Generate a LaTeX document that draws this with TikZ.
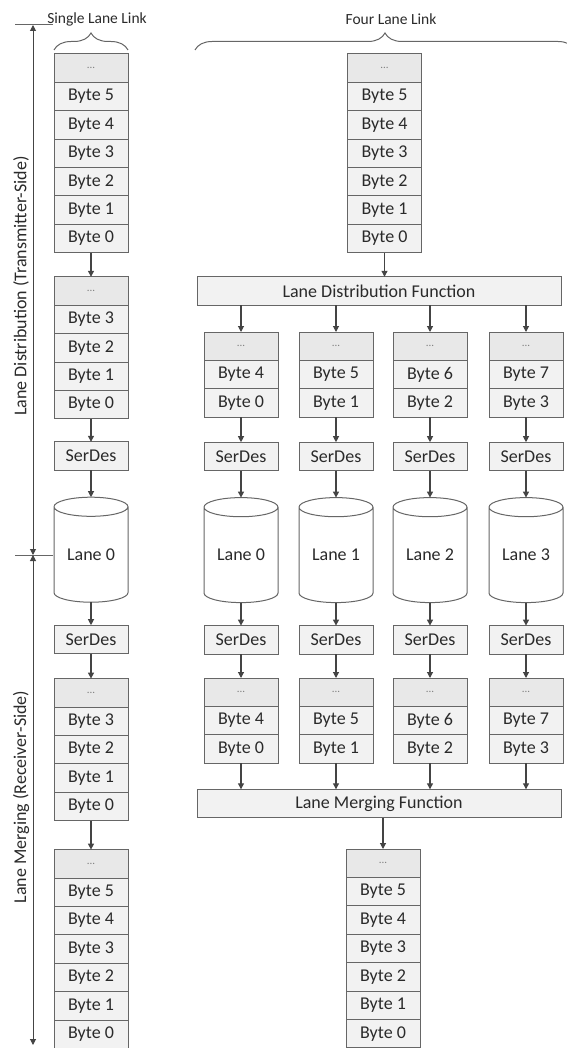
\documentclass[tikz,border=0pt]{standalone}
\usepackage{fontspec}
\setmainfont{Carlito}
\usetikzlibrary{arrows.meta,positioning,shapes.geometric,decorations.pathreplacing}
\definecolor{LineGray}{HTML}{666666}
\definecolor{CellGray}{HTML}{F2F2F2}
\definecolor{DotGray}{HTML}{E8E8E8}
\definecolor{TextGray}{HTML}{2A2A2A}
\definecolor{ArrowGray}{HTML}{444444}

\begin{document}
\begin{tikzpicture}[x=1pt, y=1pt, >={Triangle[width=6pt,length=6pt]}, font=\fontsize{18}{21}\selectfont, text=TextGray, node distance=0pt]
\tikzset{cell/.style={draw=LineGray, line width=1pt, fill=CellGray, minimum width=74pt, minimum height=28.4pt, inner sep=0pt, outer sep=0pt}, dots/.style={cell, fill=DotGray, font=\fontsize{11}{11}\selectfont, text=gray}, func/.style={cell, minimum width=364pt}, lane/.style={draw=LineGray, line width=1pt, fill=white, cylinder, shape border rotate=90, aspect=0.4, minimum width=74pt, minimum height=105pt, inner sep=0pt, outer sep=0pt}, link/.style={->, ArrowGray, line width=1.1pt}, dim/.style={<->, ArrowGray, line width=1pt}, brc/.style={decorate, decoration={brace, amplitude=17pt}, LineGray, line width=1pt}, head/.style={font=\fontsize{15.5}{18}\selectfont}}
\useasboundingbox (0,0) rectangle (566,-1048);

% single lane link
\node[dots] (sa0) at (91,-68.2) {...};
\foreach \b [count=\k, remember=\k as \p (initially 0)] in {5,...,0}
  \node[cell, below=of sa\p] (sa\k) {Byte \b};
\node[dots, below=24pt of sa6] (sb0) {...};
\foreach \b [count=\k, remember=\k as \p (initially 0)] in {3,...,0}
  \node[cell, below=of sb\p] (sb\k) {Byte \b};
\node[cell, below=23pt of sb4] (ss1) {SerDes};
\node[lane, below=27pt of ss1] (sl) {Lane 0};
\node[cell, below=23pt of sl] (ss2) {SerDes};
\node[dots, below=25pt of ss2] (sc0) {...};
\foreach \b [count=\k, remember=\k as \p (initially 0)] in {3,...,0}
  \node[cell, below=of sc\p] (sc\k) {Byte \b};
\node[dots, below=29pt of sc4] (sd0) {...};
\foreach \b [count=\k, remember=\k as \p (initially 0)] in {5,...,0}
  \node[cell, below=of sd\p] (sd\k) {Byte \b};
\foreach \a/\b in {sa6/sb0,sb4/ss1,ss1/sl,sl/ss2,ss2/sc0,sc4/sd0} \draw[link] (\a)--(\b);

% four lane link
\node[dots] (fa0) at (384.5,-68.2) {...};
\foreach \b [count=\k, remember=\k as \p (initially 0)] in {5,...,0}
  \node[cell, below=of fa\p] (fa\k) {Byte \b};
\node[func] (dist) at (379,-291) {Lane Distribution Function};
\node[func] (merge) at (379,-803.5) {Lane Merging Function};
\node[dots] (fb0) at (383,-863.2) {...};
\foreach \b [count=\k, remember=\k as \p (initially 0)] in {5,...,0}
  \node[cell, below=of fb\p] (fb\k) {Byte \b};
\draw[link] (fa6)--(dist.north -| fa6);
\draw[link] (merge.south -| fb0)--(fb0);
\foreach \c/\x/\hi/\lo in {1/241/4/0,2/336/5/1,3/430/6/2,4/526/7/3} {
  \node[dots] (c\c0) at (\x,-346.2) {...};
  \node[cell, below=of c\c0] (c\c1) {Byte \hi};
  \node[cell, below=of c\c1] (c\c2) {Byte \lo};
  \node[cell, below=25pt of c\c2] (cs\c) {SerDes};
  \node[lane, below=27pt of cs\c] (cl\c) {Lane \lo};
  \node[cell, below=23pt of cl\c] (cr\c) {SerDes};
  \node[dots, below=24pt of cr\c] (d\c0) {...};
  \node[cell, below=of d\c0] (d\c1) {Byte \hi};
  \node[cell, below=of d\c1] (d\c2) {Byte \lo};
  \draw[link] (dist.south -| c\c0)--(c\c0);
  \foreach \a/\b in {c\c2/cs\c,cs\c/cl\c,cl\c/cr\c,cr\c/d\c0} \draw[link] (\a)--(\b);
  \draw[link] (d\c2)--(merge.north -| d\c2);
}

% headings and braces
\node[head] (single) at (97,-19) {Single Lane Link};
\node[head] (four) at (391,-19) {Four Lane Link};
\draw[brc] (54,-50)--(128,-50);
\draw[brc] (195,-50)--(575,-50);

% side dimensions
\coordinate (dt) at (33,-25);
\coordinate (dm) at (33,-555);
\coordinate (db) at (33,-1045);
\draw[LineGray, line width=1pt] (15,-25)--(53,-25) (15,-555)--(53,-555);
\draw[dim] (dt)--(dm);
\draw[dim] (dm)--(db);
\node[rotate=90] (txside) at (21,-286) {Lane Distribution (Transmitter-Side)};
\node[rotate=90] (rxside) at (21,-797) {Lane Merging (Receiver-Side)};
\end{tikzpicture}
\end{document}
